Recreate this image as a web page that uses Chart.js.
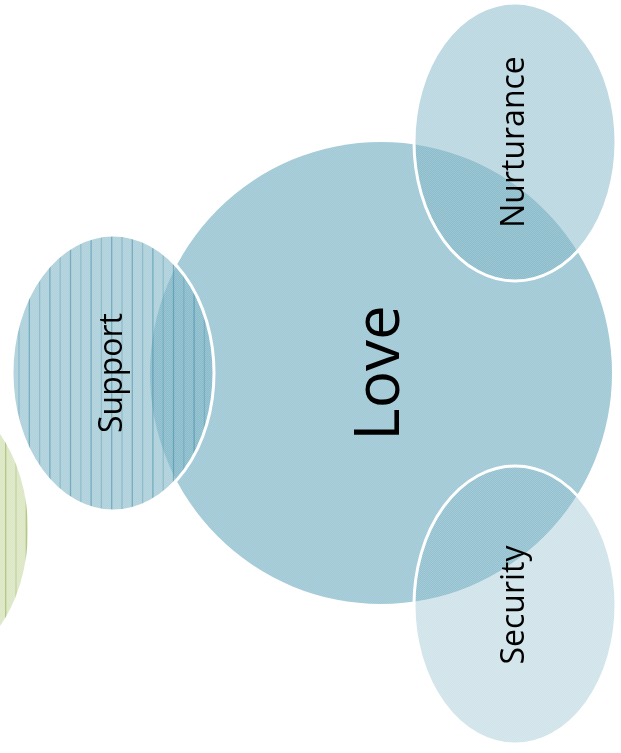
<!DOCTYPE html>
<html>
<head>
<meta charset="utf-8">
<title>Love diagram</title>
<script src="https://cdn.jsdelivr.net/npm/chart.js@4.4.0/dist/chart.umd.min.js"></script>
<style>
  html, body { margin: 0; padding: 0; background: #fff; overflow: hidden; }
  canvas { display: block; }
</style>
</head>
<body>
<canvas id="loveChart" width="621" height="753"></canvas>
<script>
// shapes in drawing order (diagram units, y grows downwards)
const shapeNames = ['', 'Love', 'Support', 'Nurturance', 'Security'];
const centerX = [-73, 381, 113, 515, 515];
const centerY = [530, 373, 373, 142, 605];
const radiusX = [101, 231, 101, 101, 101];
const radiusY = [139, 231, 138, 139, 139];

document.addEventListener('DOMContentLoaded', () => {

    function makeChecker() {
        const c = document.createElement('canvas');
        c.width = 2; c.height = 2;
        const g = c.getContext('2d');
        g.fillStyle = 'rgba(255,255,255,0.10)';
        g.fillRect(0, 0, 1, 1);
        g.fillRect(1, 1, 1, 1);
        return c;
    }
    const checker = makeChecker();

    const styles = [
        { fill: 'rgba(155,187,89,0.35)', stripe: [140, 172, 80], phase: 5.7, border: 0 },
        { fill: 'rgba(121,178,196,0.70)', stripe: null, border: 0 },
        { fill: 'rgba(121,178,196,0.60)', stripe: [70, 140, 165], phase: 29.3, border: 3 },
        { fill: 'rgba(121,178,196,0.50)', stripe: null, border: 3 },
        { fill: 'rgba(121,178,196,0.35)', stripe: null, border: 3 }
    ];
    const fontSizes = [0, 62, 32, 32, 32];

    const datasets = shapeNames.map((name, i) => ({
        label: name,
        data: [{ x: centerX[i], y: centerY[i], rx: radiusX[i], ry: radiusY[i] }],
        pointRadius: 0,
        pointHoverRadius: 0
    }));

    const ellipsePlugin = {
        id: 'ellipses',
        afterDatasetsDraw(chart) {
            const ctx = chart.ctx;
            const xs = chart.scales.x, ys = chart.scales.y;
            const pattern = ctx.createPattern(checker, 'repeat');
            const labelsToDraw = [];
            chart.data.datasets.forEach((ds, i) => {
                const meta = chart.getDatasetMeta(i);
                meta.data.forEach((pt, j) => {
                    const raw = ds.data[j];
                    const rx = Math.abs(xs.getPixelForValue(raw.x + raw.rx) - pt.x);
                    const ry = Math.abs(ys.getPixelForValue(raw.y + raw.ry) - pt.y);
                    const st = styles[i];
                    ctx.save();
                    ctx.beginPath();
                    ctx.ellipse(pt.x, pt.y, rx, ry, 0, 0, Math.PI * 2);
                    ctx.fillStyle = st.fill;
                    ctx.fill();
                    ctx.save();
                    ctx.clip();
                    ctx.fillStyle = pattern;
                    ctx.fillRect(pt.x - rx, pt.y - ry, rx * 2, ry * 2);
                    if (st.stripe) {
                        // vertical stripes, alternating strong and light
                        const [r, g, b] = st.stripe;
                        ctx.lineWidth = 1.3;
                        const step = 10.3;
                        let lx = st.phase;
                        let k = 0;
                        while (lx > pt.x - rx) { lx -= step; k++; }
                        for (; lx < pt.x + rx; lx += step, k++) {
                            ctx.strokeStyle = `rgba(${r},${g},${b},${k % 2 === 0 ? 0.55 : 0.32})`;
                            ctx.beginPath();
                            ctx.moveTo(lx, pt.y - ry);
                            ctx.lineTo(lx, pt.y + ry);
                            ctx.stroke();
                        }
                    }
                    ctx.restore();
                    if (st.border) {
                        ctx.beginPath();
                        ctx.ellipse(pt.x, pt.y, rx, ry, 0, 0, Math.PI * 2);
                        ctx.strokeStyle = '#ffffff';
                        ctx.lineWidth = st.border;
                        ctx.stroke();
                    }
                    ctx.restore();
                    if (ds.label) {
                        labelsToDraw.push({ text: ds.label, x: pt.x, y: pt.y, size: fontSizes[i] });
                    }
                });
            });
            labelsToDraw.forEach(l => {
                ctx.save();
                ctx.translate(l.x, l.y);
                ctx.rotate(-Math.PI / 2);
                ctx.fillStyle = '#000000';
                ctx.font = l.size + 'px "Open Sans", sans-serif';
                ctx.textAlign = 'center';
                ctx.textBaseline = 'middle';
                ctx.fillText(l.text, 0, 0);
                ctx.restore();
            });
        }
    };

    new Chart(document.getElementById('loveChart').getContext('2d'), {
        type: 'scatter',
        data: { datasets: datasets },
        options: {
            responsive: false,
            animation: false,
            events: [],
            layout: { padding: 0 },
            scales: {
                x: { type: 'linear', min: 0, max: 621, display: false },
                y: { type: 'linear', min: 0, max: 753, reverse: true, display: false }
            },
            plugins: {
                legend: { display: false },
                tooltip: { enabled: false }
            }
        },
        plugins: [ellipsePlugin]
    });
});
</script>
</body>
</html>
